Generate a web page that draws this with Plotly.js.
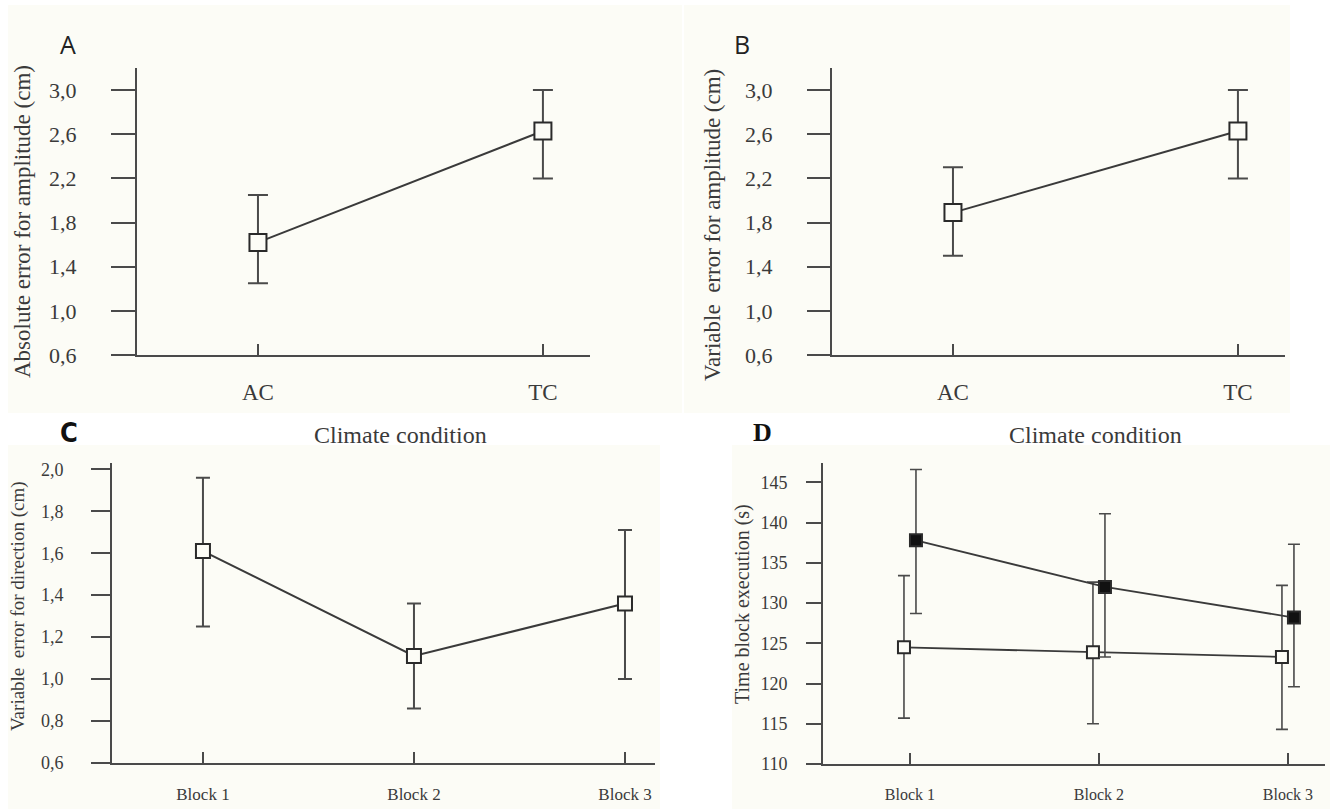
<!DOCTYPE html>
<html><head><meta charset="utf-8">
<script src="https://cdn.plot.ly/plotly-3.0.1.min.js"></script>
<style>html,body{margin:0;padding:0;background:#fff}</style>
</head><body><div id="chart" style="width:1335px;height:809px"></div>
<script>
// ---- data ----
const climateCats = ['AC', 'TC'];
const aMean  = [1.62, 2.63];
const aUpper = [2.05, 3.00];
const aLower = [1.25, 2.20];
const bMean  = [1.89, 2.63];
const bUpper = [2.30, 3.00];
const bLower = [1.50, 2.20];
const blockCats = ['Block 1', 'Block 2', 'Block 3'];
const cMean  = [1.61, 1.11, 1.36];
const cUpper = [1.96, 1.36, 1.71];
const cLower = [1.25, 0.86, 1.00];
const dOpenMean    = [124.5, 123.9, 123.3];
const dOpenUpper   = [133.4, 132.6, 132.2];
const dOpenLower   = [115.7, 115.0, 114.3];
const dFilledMean  = [137.8, 132.0, 128.2];
const dFilledUpper = [146.6, 141.1, 137.3];
const dFilledLower = [128.7, 123.3, 119.6];
const yTitles = ['Absolute error for amplitude (cm)', 'Variable  error for amplitude (cm)',
                 'Variable  error for direction (cm)', 'Time block execution (s)'];
const xTitle = 'Climate condition';

const plus  = (m, u) => u.map((v, i) => +(v - m[i]).toFixed(3));
const minus = (m, l) => l.map((v, i) => +(m[i] - v).toFixed(3));

const INK = '#3a3a3a';
const CREAM = '#fcfcf6';
const SERIF = 'Liberation Serif, Times New Roman, serif';

function trace(x, m, u, l, xa, ya, opts) {
  return {
    type: 'scatter', mode: 'lines+markers', x: x, y: m, xaxis: xa, yaxis: ya,
    showlegend: false, hoverinfo: 'x+y',
    line: {color: INK, width: opts.lw},
    marker: {symbol: 'square', size: opts.ms, color: opts.fill, line: {color: '#2a2a2a', width: 2}},
    error_y: {type: 'data', symmetric: false, array: plus(m, u), arrayminus: minus(m, l),
              color: '#4a4a4a', thickness: opts.et, width: opts.ew},
    offsetgroup: opts.og, alignmentgroup: opts.ag
  };
}

const data = [
  trace(climateCats, aMean, aUpper, aLower, 'x', 'y', {lw: 2, ms: 17, fill: CREAM, et: 2, ew: 10}),
  trace(climateCats, bMean, bUpper, bLower, 'x2', 'y2', {lw: 2, ms: 17, fill: CREAM, et: 2, ew: 10}),
  trace(blockCats, cMean, cUpper, cLower, 'x3', 'y3', {lw: 2, ms: 14, fill: CREAM, et: 2, ew: 7}),
  trace(blockCats, dOpenMean, dOpenUpper, dOpenLower, 'x4', 'y4', {lw: 1.8, ms: 12, fill: CREAM, et: 1.6, ew: 6, og: 'open', ag: 'd'}),
  trace(blockCats, dFilledMean, dFilledUpper, dFilledLower, 'x4', 'y4', {lw: 1.8, ms: 12, fill: '#111111', et: 1.6, ew: 6, og: 'filled', ag: 'd'})
];

function xax(domain, range, anchor, fs, stand) {
  return {domain: domain, anchor: anchor, type: 'category', range: range,
    showline: true, linecolor: '#4a4a4a', linewidth: 2, mirror: false,
    ticks: 'inside', ticklen: 11, tickwidth: 2, tickcolor: '#4a4a4a',
    ticklabelstandoff: stand,
    tickfont: {family: SERIF, size: fs, color: INK},
    showgrid: false, zeroline: false, fixedrange: true};
}
function yax(domain, range, anchor, tick0, dtick, fmt, tlen, fs, stand) {
  return {domain: domain, anchor: anchor, range: range, tick0: tick0, dtick: dtick, tickformat: fmt,
    showline: true, linecolor: '#4a4a4a', linewidth: 2,
    ticks: 'outside', ticklen: tlen, tickwidth: 2, tickcolor: '#4a4a4a',
    ticklabelstandoff: stand,
    tickfont: {family: SERIF, size: fs, color: INK},
    showgrid: false, zeroline: false, fixedrange: true};
}

function ytitle(text, x, y, size) {
  return {text: text, xref: 'paper', yref: 'paper', x: x, y: y, textangle: -90, showarrow: false,
          xanchor: 'center', yanchor: 'middle', font: {family: SERIF, size: size, color: INK}};
}

const layout = {
  width: 1335, height: 809,
  margin: {l: 0, r: 0, t: 0, b: 0},
  paper_bgcolor: '#ffffff', plot_bgcolor: 'rgba(0,0,0,0)',
  separators: ',.',
  scattermode: 'group', scattergap: 0.873,
  xaxis:  xax([0.1026, 0.4419], [-0.4246, 1.165], 'y', 23, 15),
  yaxis:  yax([0.5612, 0.9159], [0.6, 3.2], 'x', 0.6, 0.4, '.1f', 24, 22, 30),
  xaxis2: xax([0.6232, 0.9625], [-0.4246, 1.165], 'y2', 23, 15),
  yaxis2: yax([0.5612, 0.9159], [0.6, 3.2], 'x2', 0.6, 0.4, '.1f', 23, 22, 30),
  xaxis3: xax([0.0839, 0.4906], [-0.431, 2.142], 'y3', 17, 15),
  yaxis3: yax([0.0569, 0.4277], [0.6, 2.03], 'x3', 0.6, 0.2, '.1f', 19, 18, 24),
  xaxis4: xax([0.6165, 0.9925], [-0.46, 2.196], 'y4', 16, 15),
  yaxis4: yax([0.0556, 0.4277], [110, 147.4], 'x4', 110, 5, 'd', 15, 18, 15),
  shapes: [
    {type: 'rect', xref: 'paper', yref: 'paper', x0: 0.006, x1: 0.5109, y0: 0.4895, y1: 0.9938, fillcolor: CREAM, line: {width: 0}, layer: 'below'},
    {type: 'rect', xref: 'paper', yref: 'paper', x0: 0.5124, x1: 0.9663, y0: 0.4895, y1: 0.9938, fillcolor: CREAM, line: {width: 0}, layer: 'below'},
    {type: 'rect', xref: 'paper', yref: 'paper', x0: 0.006, x1: 0.4944, y0: 0, y1: 0.4499, fillcolor: CREAM, line: {width: 0}, layer: 'below'},
    {type: 'rect', xref: 'paper', yref: 'paper', x0: 0.5483, x1: 0.9963, y0: 0, y1: 0.4499, fillcolor: CREAM, line: {width: 0}, layer: 'below'}
  ],
  annotations: [
    {text: xTitle, xref: 'x', x: 0.5, yref: 'paper', y: 0.4623, showarrow: false, yanchor: 'middle', font: {family: SERIF, size: 24, color: INK}},
    {text: xTitle, xref: 'x2', x: 0.5, yref: 'paper', y: 0.4623, showarrow: false, yanchor: 'middle', font: {family: SERIF, size: 24, color: INK}},
    ytitle(yTitles[0], 22 / 1335, 1 - 222 / 809, 23),
    ytitle(yTitles[1], 713 / 1335, 1 - 225 / 809, 23),
    ytitle(yTitles[2], 18 / 1335, 1 - 606 / 809, 19),
    ytitle(yTitles[3], 742 / 1335, 1 - 604 / 809, 20),
    {text: 'A', xref: 'paper', yref: 'paper', x: 0.0434, y: 0.969, showarrow: false, font: {family: 'Open Sans, Liberation Sans, sans-serif', size: 25, color: '#222'}},
    {text: 'B', xref: 'paper', yref: 'paper', x: 0.5558, y: 0.969, showarrow: false, font: {family: 'Open Sans, Liberation Sans, sans-serif', size: 25, color: '#222'}},
    {text: '<b>C</b>', xref: 'paper', yref: 'paper', x: 0.0434, y: 0.466, showarrow: false, font: {family: 'Liberation Sans Narrow, DejaVu Sans Condensed, sans-serif', size: 27, color: '#111'}},
    {text: '<b>D</b>', xref: 'paper', yref: 'paper', x: 0.5708, y: 0.4648, showarrow: false, font: {family: SERIF, size: 26, color: '#111'}}
  ]
};

Plotly.newPlot('chart', data, layout, {displayModeBar: false, staticPlot: true});
</script></body></html>
